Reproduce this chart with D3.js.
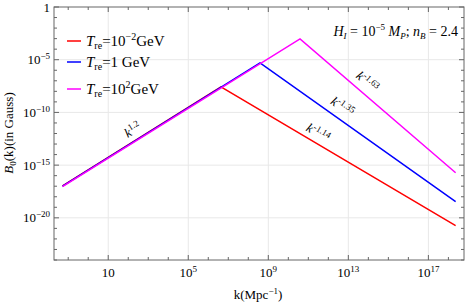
<!DOCTYPE html>
<html>
<head>
<meta charset="utf-8">
<script src="https://cdn.jsdelivr.net/npm/d3@7"></script>
<style>
  body { margin: 0; background: #fff; }
  svg { display: block; font-family: "Liberation Serif", "Times New Roman", serif; }
</style>
</head>
<body>
<svg id="chart"></svg>
<script>
// reheating temperature series: B0(k) broken power law
const seriesNames = ["1e-2", "1", "1e2"];
const kStart = [5.2e-2, 5.2e-2, 5.2e-2];
const bStart = [1.1e-17, 1.0e-17, 0.9e-17];
const kPeak = [4.3e6, 3.85e8, 3.85e10];
const bPeak = [2.6e-8, 4.9e-6, 9.5e-4];
const kEnd = [2.3e18, 2.3e18, 2.3e18];
const bEnd = [1.8e-21, 3.5e-19, 1.9e-16];

const xMajor = [1e1, 1e5, 1e9, 1e13, 1e17];
const xMajorExp = ["", "5", "9", "13", "17"];
const yMajor = [1, 1e-5, 1e-10, 1e-15, 1e-20];
const yMajorExp = ["", "\u22125", "\u221210", "\u221215", "\u221220"];

const slopeLabels = ["1.2", "-1.14", "-1.35", "-1.63"];
const slopeK = [1.7e2, 3.0e11, 4.8e12, 8.6e13];
const slopeB = [2.1e-12, 1.1e-12, 3.2e-10, 7.6e-8];

const colors = ["#ff0000", "#0000ff", "#ff00ff"];

const width = 468, height = 305;
const svg = d3.select("#chart").attr("width", width).attr("height", height);

const x = d3.scaleLog().domain([Math.pow(10, -1.71), Math.pow(10, 18.78)]).range([54, 464]);
const y = d3.scaleLog().domain([1e-24, 1]).range([260, 7]);

const frameColor = "#666";

// grid
const grid = svg.append("g");
xMajor.forEach(v => {
  grid.append("line")
    .attr("x1", x(v)).attr("x2", x(v)).attr("y1", y.range()[0]).attr("y2", y.range()[1])
    .attr("stroke", "#e8e8e8").attr("stroke-width", 1);
});
yMajor.slice(1).forEach(v => {
  grid.append("line")
    .attr("x1", x.range()[0]).attr("x2", x.range()[1]).attr("y1", y(v)).attr("y2", y(v))
    .attr("stroke", "#e8e8e8").attr("stroke-width", 1);
});

// lines
const line = d3.line().x(d => x(d[0])).y(d => y(d[1]));
const plot = svg.append("g");
seriesNames.forEach((s, i) => {
  const pts = [[kStart[i], bStart[i]], [kPeak[i], bPeak[i]], [kEnd[i], bEnd[i]]];
  plot.append("path")
    .attr("d", line(pts))
    .attr("fill", "none")
    .attr("stroke", colors[i])
    .attr("stroke-width", 1.5)
    .attr("stroke-linejoin", "miter");
});

// frame with inward ticks on all sides
const x0 = x.range()[0], x1 = x.range()[1], y0 = y.range()[0], y1 = y.range()[1];
const frame = svg.append("g").attr("stroke", frameColor).attr("stroke-width", 1);
frame.append("rect").attr("x", x0).attr("y", y1).attr("width", x1 - x0).attr("height", y0 - y1)
  .attr("fill", "none");

const xMinor = d3.range(-1, 19).map(e => Math.pow(10, e));
xMinor.forEach(v => {
  const major = xMajor.some(m => Math.abs(Math.log10(m) - Math.log10(v)) < 1e-6);
  const len = major ? 5 : 3;
  frame.append("line").attr("x1", x(v)).attr("x2", x(v)).attr("y1", y0).attr("y2", y0 - len);
  frame.append("line").attr("x1", x(v)).attr("x2", x(v)).attr("y1", y1).attr("y2", y1 + len);
});
const yMinor = d3.range(-24, 1).map(e => Math.pow(10, e));
yMinor.forEach(v => {
  const major = yMajor.some(m => Math.abs(Math.log10(m) - Math.log10(v)) < 1e-6);
  const len = major ? 5 : 3;
  frame.append("line").attr("x1", x0).attr("x2", x0 + len).attr("y1", y(v)).attr("y2", y(v));
  frame.append("line").attr("x1", x1).attr("x2", x1 - len).attr("y1", y(v)).attr("y2", y(v));
});

// tick labels
const fs = 13;
xMajor.forEach((v, i) => {
  const t = svg.append("text").attr("x", x(v)).attr("y", y0 + 17)
    .attr("text-anchor", "middle").attr("font-size", fs);
  t.append("tspan").text("10");
  if (xMajorExp[i]) t.append("tspan").attr("dy", -5).attr("font-size", 9).text(xMajorExp[i]);
});
yMajor.forEach((v, i) => {
  const t = svg.append("text").attr("x", x0 - 4).attr("y", y(v) + 4.5)
    .attr("text-anchor", "end").attr("font-size", fs);
  if (!yMajorExp[i]) { t.text("1"); return; }
  t.append("tspan").text("10");
  t.append("tspan").attr("dy", -5).attr("font-size", 9).text(yMajorExp[i]);
});

// axis labels
const xl = svg.append("text").attr("x", 258).attr("y", 299).attr("text-anchor", "middle").attr("font-size", fs);
xl.append("tspan").text("k(Mpc");
xl.append("tspan").attr("dy", -5).attr("font-size", 9).text("\u22121");
xl.append("tspan").attr("dy", 5).text(")");

const yl = svg.append("text").attr("transform", "translate(13,133) rotate(-90)")
  .attr("text-anchor", "middle").attr("font-size", fs);
yl.append("tspan").attr("font-style", "italic").text("B");
yl.append("tspan").attr("dy", 3).attr("font-size", 9).text("0");
yl.append("tspan").attr("dy", -3).text("(k)(in Gauss)");

// legend
const legendExp = [["10", "\u22122", "GeV"], ["1 GeV", "", ""], ["10", "2", "GeV"]];
const legendY = [41, 62, 89];
seriesNames.forEach((s, i) => {
  const g = svg.append("g");
  g.append("line").attr("x1", 67).attr("x2", 81).attr("y1", legendY[i]).attr("y2", legendY[i])
    .attr("stroke", colors[i]).attr("stroke-width", 1.5);
  const t = g.append("text").attr("x", 86).attr("y", legendY[i] + 5).attr("font-size", 15);
  t.append("tspan").attr("font-style", "italic").text("T");
  t.append("tspan").attr("dy", 3).attr("font-size", 10).text("re");
  t.append("tspan").attr("dy", -3).text("=" + legendExp[i][0]);
  if (legendExp[i][1]) {
    t.append("tspan").attr("dy", -6).attr("font-size", 10).text(legendExp[i][1]);
    t.append("tspan").attr("dy", 6).text(legendExp[i][2]);
  }
});

// parameter note
const note = svg.append("text").attr("x", 458).attr("y", 36).attr("text-anchor", "end").attr("font-size", 14);
note.append("tspan").attr("font-style", "italic").text("H");
note.append("tspan").attr("dy", 3).attr("font-size", 9).attr("font-style", "italic").text("I");
note.append("tspan").attr("dy", -3).text(" = 10");
note.append("tspan").attr("dy", -6).attr("font-size", 9).text("\u22125");
note.append("tspan").attr("dy", 6).attr("font-style", "italic").text(" M");
note.append("tspan").attr("dy", 3).attr("font-size", 9).attr("font-style", "italic").text("P");
note.append("tspan").attr("dy", -3).text("; ");
note.append("tspan").attr("font-style", "italic").text("n");
note.append("tspan").attr("dy", 3).attr("font-size", 9).attr("font-style", "italic").text("B");
note.append("tspan").attr("dy", -3).text(" = 2.4");

// slope annotations, rotated to follow their segment
const segs = [
  [[kStart[0], bStart[0]], [kPeak[0], bPeak[0]]],
  [[kPeak[0], bPeak[0]], [kEnd[0], bEnd[0]]],
  [[kPeak[1], bPeak[1]], [kEnd[1], bEnd[1]]],
  [[kPeak[2], bPeak[2]], [kEnd[2], bEnd[2]]]
];
slopeLabels.forEach((lab, i) => {
  const [p, q] = segs[i];
  const ang = Math.atan2(y(q[1]) - y(p[1]), x(q[0]) - x(p[0])) * 180 / Math.PI;
  const t = svg.append("text")
    .attr("transform", `translate(${x(slopeK[i])},${y(slopeB[i])}) rotate(${ang})`)
    .attr("y", 4)
    .attr("text-anchor", "middle").attr("font-size", 13);
  t.append("tspan").attr("font-style", "italic").text("k");
  t.append("tspan").attr("dy", -5).attr("font-size", 9).text(lab);
});
</script>
</body>
</html>
